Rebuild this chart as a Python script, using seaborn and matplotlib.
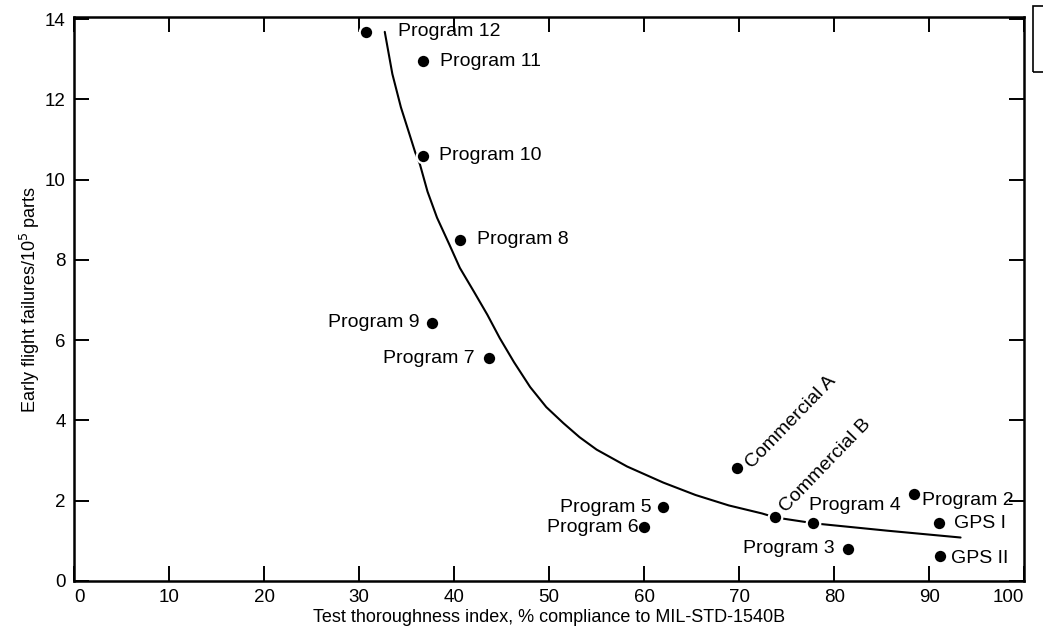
import matplotlib
matplotlib.use("Agg")
import matplotlib.pyplot as plt
import seaborn as sns
import pandas as pd
from matplotlib.patches import Rectangle

# data
programs = ["Program 12", "Program 11", "Program 10", "Program 8", "Program 9",
            "Program 7", "Commercial A", "Commercial B", "Program 5", "Program 6",
            "Program 4", "Program 3", "Program 2", "GPS I", "GPS II"]
thoroughness = [30.7, 36.7, 36.7, 40.6, 37.7, 43.7, 69.8, 73.8, 62.0, 60.0,
                77.8, 81.5, 88.4, 91.0, 91.1]
failures = [13.68, 12.95, 10.58, 8.5, 6.43, 5.55, 2.8, 1.58, 1.83, 1.33,
            1.43, 0.8, 2.17, 1.45, 0.63]

# trend curve, points
curve_x = [32.7, 33.5, 34.4, 35.3, 35.9, 36.4, 37.2, 38.2, 39.5, 40.6,
           42.1, 43.5, 44.8, 46.3, 48.0, 49.7, 51.5, 53.2, 55.0, 58.2,
           62.0, 65.4, 68.9, 72.4, 73.8, 78.0, 85.6, 93.3]
curve_y = [13.68, 12.63, 11.8, 11.13, 10.68, 10.38, 9.7, 9.05, 8.38, 7.8,
           7.2, 6.63, 6.05, 5.45, 4.83, 4.33, 3.93, 3.58, 3.27, 2.85,
           2.45, 2.14, 1.88, 1.68, 1.58, 1.43, 1.25, 1.08]

x_ticks = [0, 10, 20, 30, 40, 50, 60, 70, 80, 90, 100]
y_ticks = [0, 2, 4, 6, 8, 10, 12, 14]

# label placement: (dx, dy) in pixels, horizontal alignment, rotation
label_style = {
    "Program 12": (32, 0, "left", 0),
    "Program 11": (17, 0, "left", 0),
    "Program 10": (16, 1, "left", 0),
    "Program 8": (17, 0, "left", 0),
    "Program 9": (-13, 0, "right", 0),
    "Program 7": (-15, 0, "right", 0),
    "Commercial A": (11, 3, "left", 46),
    "Commercial B": (7, 8, "left", 46),
    "Program 5": (-12, 0, "right", 0),
    "Program 6": (-6, 0, "right", 0),
    "Program 4": (-4, 18, "left", 0),
    "Program 3": (-14, 0, "right", 0),
    "Program 2": (8, -7, "left", 0),
    "GPS I": (15, -1, "left", 0),
    "GPS II": (11, -3, "left", 0),
}

df = pd.DataFrame({"program": programs, "x": thoroughness, "y": failures})
curve = pd.DataFrame({"x": curve_x, "y": curve_y})

sns.set_theme(style="ticks")
plt.rcParams["font.family"] = ["Liberation Sans", "DejaVu Sans"]

fig = plt.figure(figsize=(10.43, 6.30), dpi=100)
ax = fig.add_axes([0.071, 0.078, 0.911, 0.895])

sns.lineplot(data=curve, x="x", y="y", ax=ax, color="black", linewidth=1.5,
             sort=False, estimator=None)
sns.scatterplot(data=df, x="x", y="y", ax=ax, color="black", s=95,
                edgecolor="white", linewidth=1.6, zorder=3)

for name, px, py in zip(programs, thoroughness, failures):
    dx, dy, ha, rot = label_style[name]
    ax.annotate(name, (px, py), xytext=(dx, dy), textcoords="offset pixels",
                ha=ha, va="center", rotation=rot, rotation_mode="anchor",
                fontsize=14, color="black")

ax.set_xlim(0, 99.5)
ax.set_ylim(0, 14.05)
ax.set_xticks(x_ticks)
ax.set_yticks(y_ticks)
ax.set_xticklabels([str(t) for t in x_ticks])
ax.set_yticklabels([str(t) for t in y_ticks])
ax.tick_params(axis="both", direction="in", length=11, width=1.4,
               labelsize=13.5, colors="black", top=True, right=True, pad=6)
# nudge the corner zeros apart like the original
for lab in ax.get_xticklabels():
    if lab.get_text() == "0":
        lab.set_horizontalalignment("left")
    if lab.get_text() == "100":
        lab.set_horizontalalignment("right")
ax.set_xlabel("Test thoroughness index, % compliance to MIL-STD-1540B",
              fontsize=13, color="black", labelpad=2)
ax.set_ylabel("Early flight failures/10$^5$ parts", fontsize=13, color="black",
              labelpad=2)
for sp in ax.spines.values():
    sp.set_linewidth(1.8)
    sp.set_color("black")
    sp.set_visible(True)

# small tag box in the upper right corner
fig.patches.append(Rectangle((0.99, 0.885), 0.02, 0.105, transform=fig.transFigure,
                             fill=False, edgecolor="black", linewidth=1.2))

fig.savefig("out.png", dpi=100)
